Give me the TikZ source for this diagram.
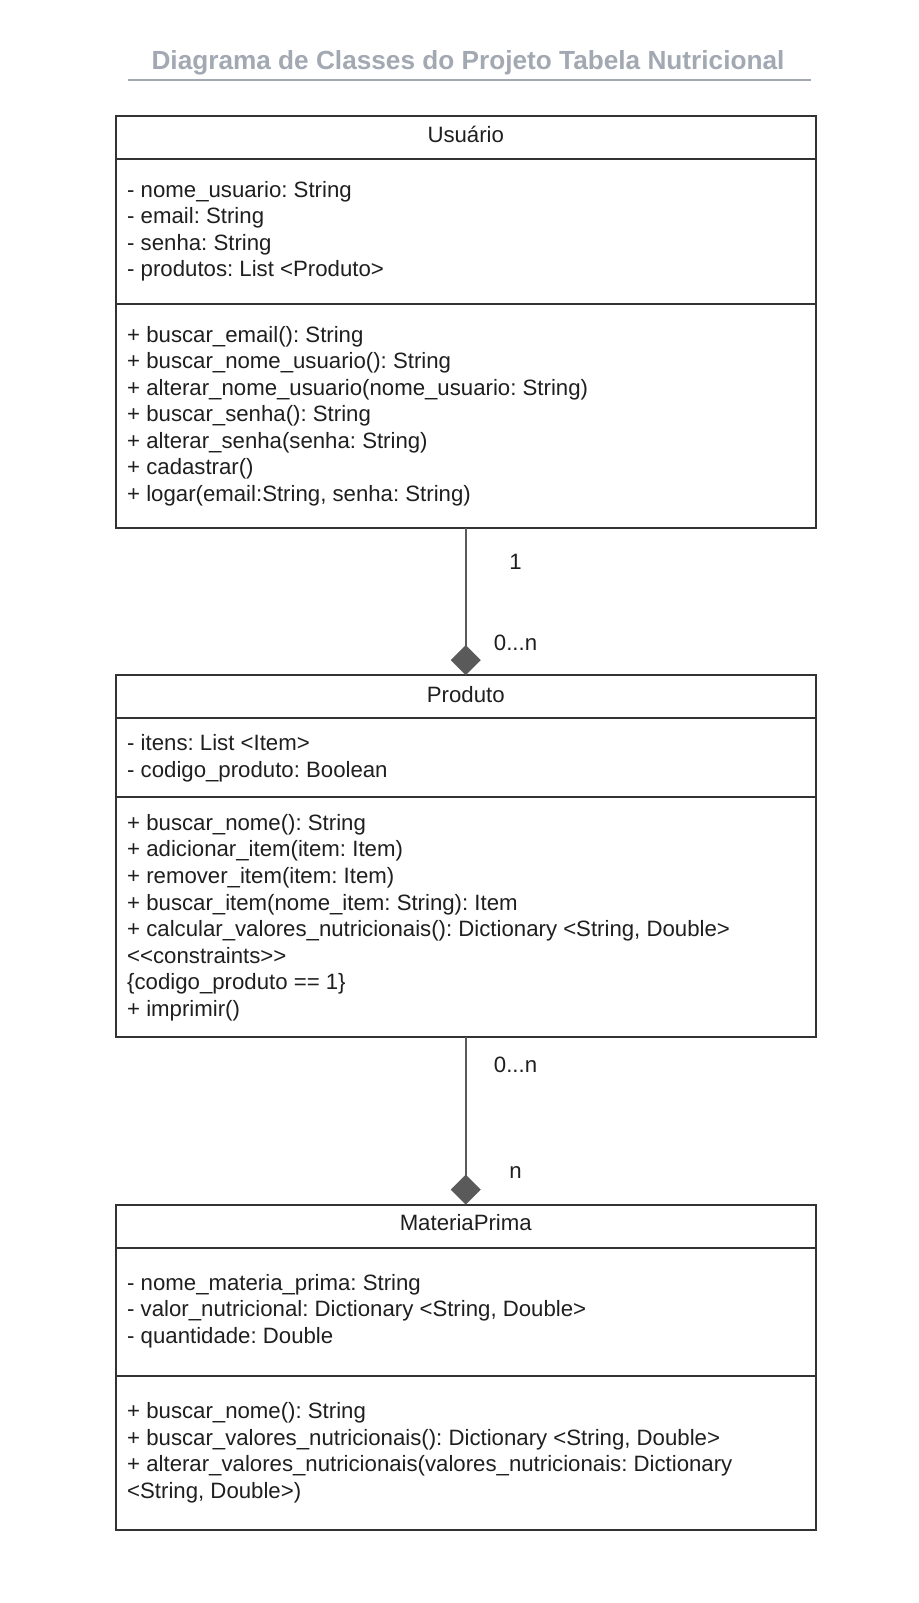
\documentclass[tikz,border=0pt]{standalone}
\usepackage{fontspec}
\setmainfont{Liberation Sans}
\usetikzlibrary{arrows.meta}
\frenchspacing
\definecolor{txt}{HTML}{1F1F1F}
\definecolor{strokec}{HTML}{333333}
\definecolor{connc}{HTML}{5A5A5A}
\definecolor{ttl}{HTML}{A3A9B3}
\tikzset{
  classbox/.style={draw=strokec, line width=2pt, rectangle, minimum width=699.5pt, inner sep=0pt, outer sep=0pt},
  divider/.style={draw=strokec, line width=2pt},
  tl/.style={anchor=base west, inner sep=0pt, text=txt, font=\fontsize{22.2}{26.56}\selectfont},
  hd/.style={anchor=base, inner sep=0pt, text=txt, font=\fontsize{22.2}{26.56}\selectfont},
  lbl/.style={anchor=base, inner sep=0pt, text=txt, font=\fontsize{22.2}{26.56}\selectfont},
  conn/.style={draw=connc, line width=2pt, -{Diamond[length=30pt, width=30pt, fill=connc]}},
  titlestyle/.style={anchor=base, inner sep=0pt, text=ttl, font=\fontsize{26.2}{30}\selectfont\bfseries},
  uline/.style={draw=ttl, line width=2pt}
}
\begin{document}
\begin{tikzpicture}[x=1pt,y=-1pt]
\useasboundingbox[fill=white] (0,0) rectangle (918,1603);

% title
\node[titlestyle] (title) at (468,70) {Diagrama de Classes do Projeto Tabela Nutricional};
\coordinate (ulL) at (127.7,79.5);
\coordinate (ulR) at (810.7,79.5);
\draw[uline] (ulL) -- (ulR);

% class boxes
\node[classbox, minimum height=412.3pt] (usuario) at (465.75,321.85) {};
\node[classbox, minimum height=362pt] (produto) at (465.75,856) {};
\node[classbox, minimum height=325.3pt] (materia) at (465.75,1367.35) {};

% dividers
\draw[divider] (usuario.west |- 0,159) -- (usuario.east |- 0,159);
\draw[divider] (usuario.west |- 0,304) -- (usuario.east |- 0,304);
\draw[divider] (produto.west |- 0,718) -- (produto.east |- 0,718);
\draw[divider] (produto.west |- 0,797) -- (produto.east |- 0,797);
\draw[divider] (materia.west |- 0,1248) -- (materia.east |- 0,1248);
\draw[divider] (materia.west |- 0,1376) -- (materia.east |- 0,1376);

% Usuario
\node[hd] (u-h) at (465.75,142) {Usuário};
\node[tl] (u-a1) at (127,197) {- nome\_usuario: String};
\node[tl] (u-a2) at (127,223.5) {- email: String};
\node[tl] (u-a3) at (127,250) {- senha: String};
\node[tl] (u-a4) at (127,276.7) {- produtos: List <Produto>};
\node[tl] (u-m1) at (127,342) {+ buscar\_email(): String};
\node[tl] (u-m2) at (127,368.6) {+ buscar\_nome\_usuario(): String};
\node[tl] (u-m3) at (127,395.2) {+ alterar\_nome\_usuario(nome\_usuario: String)};
\node[tl] (u-m4) at (127,421.7) {+ buscar\_senha(): String};
\node[tl] (u-m5) at (127,448.3) {+ alterar\_senha(senha: String)};
\node[tl] (u-m6) at (127,474.8) {+ cadastrar()};
\node[tl] (u-m7) at (127,501.4) {+ logar(email:String, senha: String)};

% Produto
\node[hd] (p-h) at (465.75,702.6) {Produto};
\node[tl] (p-a1) at (127,750.6) {- itens: List <Item>};
\node[tl] (p-a2) at (127,777.2) {- codigo\_produto: Boolean};
\node[tl] (p-m1) at (127,830.3) {+ buscar\_nome(): String};
\node[tl] (p-m2) at (127,856.9) {+ adicionar\_item(item: Item)};
\node[tl] (p-m3) at (127,883.4) {+ remover\_item(item: Item)};
\node[tl] (p-m4) at (127,910) {+ buscar\_item(nome\_item: String): Item};
\node[tl] (p-m5) at (127,936.5) {+ calcular\_valores\_nutricionais(): Dictionary <String, Double>};
\node[tl] (p-m6) at (127,963.1) {<{}<constraints>{}>};
\node[tl] (p-m7) at (127,989.7) {\{codigo\_produto == 1\}};
\node[tl] (p-m8) at (127,1016.2) {+ imprimir()};

% MateriaPrima
\node[hd] (m-h) at (465.75,1230.7) {MateriaPrima};
\node[tl] (m-a1) at (127,1290) {- nome\_materia\_prima: String};
\node[tl] (m-a2) at (127,1316.5) {- valor\_nutricional: Dictionary <String, Double>};
\node[tl] (m-a3) at (127,1343) {- quantidade: Double};
\node[tl] (m-m1) at (127,1418.7) {+ buscar\_nome(): String};
\node[tl] (m-m2) at (127,1445.3) {+ buscar\_valores\_nutricionais(): Dictionary <String, Double>};
\node[tl] (m-m3) at (127,1471.8) {+ alterar\_valores\_nutricionais(valores\_nutricionais: Dictionary};
\node[tl] (m-m4) at (127,1498.4) {<String, Double>)};

% connectors
\draw[conn] (usuario.south) -- (produto.north);
\draw[conn] (produto.south) -- (materia.north);

% multiplicities
\node[lbl] (c1a) at (515.5,569.8) {1};
\node[lbl] (c1b) at (515.5,650.5) {0...n};
\node[lbl] (c2a) at (515.5,1072.4) {0...n};
\node[lbl] (c2b) at (515.5,1178.5) {n};
\end{tikzpicture}
\end{document}
